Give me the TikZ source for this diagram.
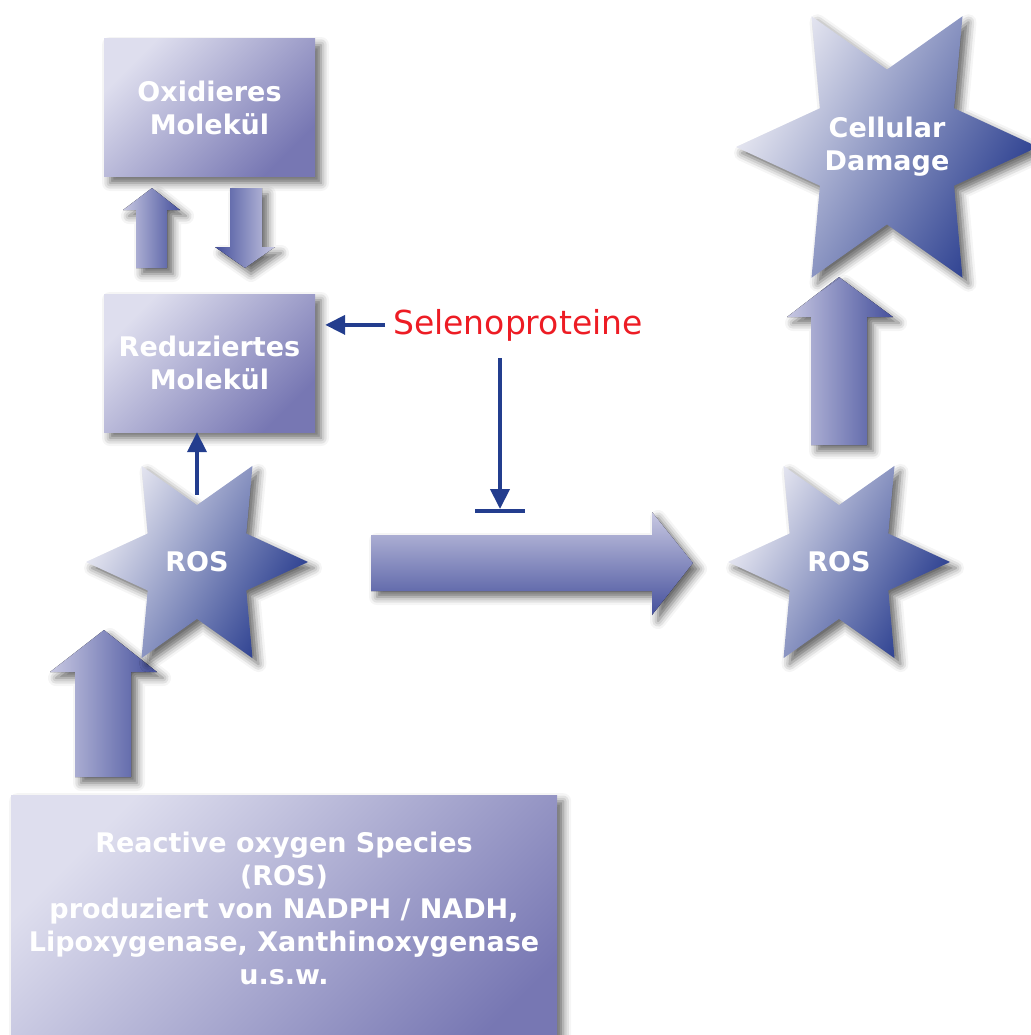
\documentclass[tikz,border=0pt]{standalone}
\usepackage{fontspec}
\setmainfont{DejaVu Sans}
\usetikzlibrary{shapes.geometric,shadows.blur,arrows.meta}

\definecolor{boxlight}{HTML}{DEDEEE}
\definecolor{boxdark}{HTML}{7777B3}
\definecolor{starlight}{HTML}{ECECF4}
\definecolor{stardark}{HTML}{283C8E}
\definecolor{arrowlight}{HTML}{C8C8E2}
\definecolor{arrowdark}{HTML}{45509C}
\definecolor{linkblue}{HTML}{233D8E}
\definecolor{selred}{HTML}{ED1C24}

\tikzset{
  softshadow/.style={blur shadow={shadow xshift=6pt, shadow yshift=-6pt, shadow blur radius=8pt, shadow opacity=60}},
  boxfont/.style={text=white, font=\bfseries\fontsize{27}{33}\selectfont, align=center},
  molbox/.style={rectangle, minimum width=211pt, minimum height=138pt, inner sep=0pt,
    top color=boxlight, bottom color=boxdark, shading angle=45, softshadow, boxfont},
  rosstar/.style={star, star points=6, star point ratio=1.95, shape border rotate=30, inner sep=0pt,
    top color=starlight, bottom color=stardark, shading angle=60, softshadow, boxfont},
  blockup/.style={left color=arrowlight, right color=arrowdark, softshadow},
  blockdown/.style={left color=arrowdark, right color=arrowlight, softshadow},
  blockright/.style={top color=arrowlight, bottom color=arrowdark, softshadow},
  linkline/.style={linkblue, line width=4pt},
  linkarrow/.style={linkline, -{Triangle[length=20pt,width=19pt]}},
  seltext/.style={text=selred, font=\fontsize{33}{40}\selectfont, inner sep=0pt}
}

\begin{document}
\begin{tikzpicture}[x=1pt, y=-1pt]
\useasboundingbox (0,0) rectangle (1030,1035);

% boxes
\node[molbox] (ox) at (209.5,108) {Oxidieres\\Molekül};
\node[molbox] (red) at (209.5,363) {Reduziertes\\Molekül};
\node[molbox, minimum width=546pt, minimum height=290pt, anchor=north west] (src) at (11,795) {};
\node[boxfont, inner sep=0pt, anchor=north] (srctext) at (284,832)
  {Reactive oxygen Species\\(ROS)\\produziert von NADPH / NADH,\\Lipoxygenase, Xanthinoxygenase\\u.s.w.};

% block arrows
\fill[blockup] (136,268) -- (136,210) -- (123,210) -- (152,188) -- (180,210) -- (167,210) -- (167,268) -- cycle;
\fill[blockdown] (230,188) -- (262,188) -- (262,247) -- (275,247) -- (245,268) -- (215,247) -- (230,247) -- cycle;
\fill[blockup] (75,777) -- (75,672) -- (50,672) -- (104,630) -- (157,672) -- (131,672) -- (131,777) -- cycle;
\fill[blockright] (371,535) -- (652,535) -- (652,512) -- (693,563) -- (652,615) -- (652,591) -- (371,591) -- cycle;
\fill[blockup] (811,445) -- (811,317) -- (787,317) -- (839,277) -- (893,317) -- (867,317) -- (867,445) -- cycle;

% stars
\node[rosstar, minimum size=222pt] (rosl) at (197,562) {ROS};
\node[rosstar, minimum size=222pt] (rosr) at (839,562) {ROS};
\node[rosstar, minimum size=302pt, label={[boxfont]center:Cellular\\Damage}] (damage) at (887,147) {};

% selenoproteine
\node[seltext, anchor=base west] (sel) at (393,334) {Selenoproteine};
\draw[linkarrow, shorten <=8pt, shorten >=10pt] (sel.west) -- (sel.west -| red.east);
\coordinate (inhtop) at (500,358);
\coordinate (inhend) at (500,511);
\draw[linkarrow, shorten >=2pt] (inhtop) -- (inhend);
\draw[linkline] ([xshift=-25pt]inhend) -- ([xshift=25pt]inhend);

% ros to reduced molecule
\draw[linkarrow] ([yshift=10pt]rosl.north) -- (rosl.north |- red.south);
\end{tikzpicture}
\end{document}
